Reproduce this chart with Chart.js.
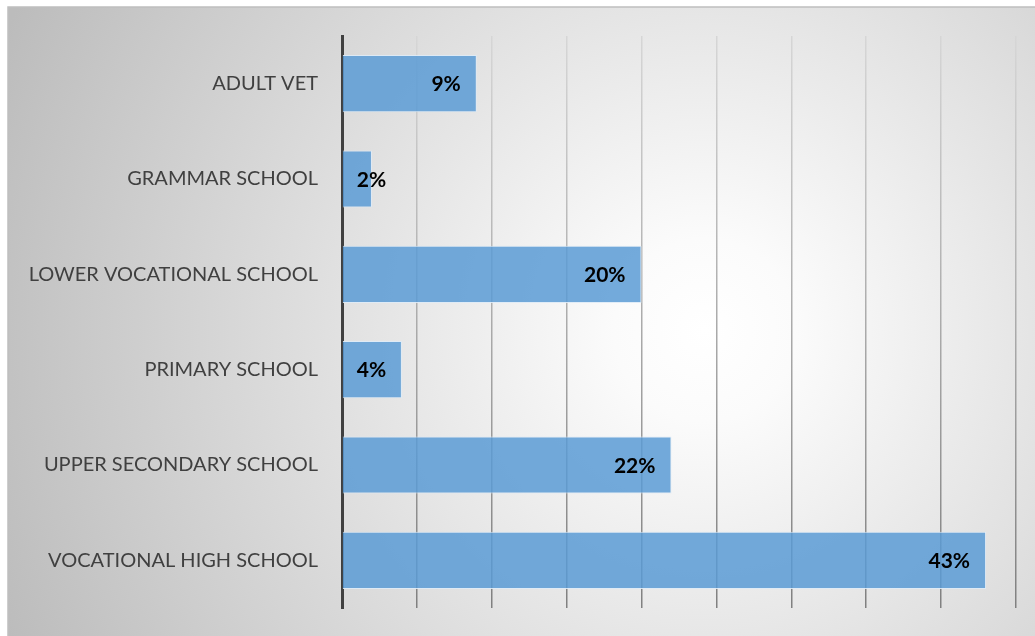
<!DOCTYPE html>
<html>
<head>
<meta charset="utf-8">
<script src="https://cdn.jsdelivr.net/npm/chart.js@4/dist/chart.umd.min.js"></script>
<style>
  html, body { margin: 0; padding: 0; background: #fff; }
  #wrap { width: 1035px; height: 636px; position: relative; }
</style>
</head>
<body>
<div id="wrap"><canvas id="schoolChart"></canvas></div>
<script>
// =========================
// School type share chart
// =========================

const schoolTypes = [
    'ADULT VET',
    'GRAMMAR SCHOOL',
    'LOWER VOCATIONAL SCHOOL',
    'PRIMARY SCHOOL',
    'UPPER SECONDARY SCHOOL',
    'VOCATIONAL HIGH SCHOOL'
];
const sharePercent = [9, 2, 20, 4, 22, 43];
const axisMax = 45;
const axisStep = 5;

// soft radial backdrop with a thin frame on top and left
const backdrop = {
    id: 'backdrop',
    beforeDraw(chart) {
        const c = chart.ctx;
        const x0 = 8, y0 = 7;
        const w = chart.width - x0, h = chart.height - y0;
        const g = c.createRadialGradient(705, 330, 0, 705, 330, 760);
        g.addColorStop(0, '#ffffff');
        g.addColorStop(0.12, '#fbfbfb');
        g.addColorStop(1, '#bcbcbc');
        c.save();
        c.fillStyle = g;
        c.fillRect(x0, y0, w, h);
        c.strokeStyle = '#bfbfbf';
        c.lineWidth = 1.5;
        c.beginPath();
        c.moveTo(x0, chart.height);
        c.lineTo(x0, y0);
        c.lineTo(chart.width, y0);
        c.stroke();
        c.restore();
    }
};

// percentage labels at the inner end of each bar
const barLabels = {
    id: 'barLabels',
    afterDatasetsDraw(chart) {
        const c = chart.ctx;
        const meta = chart.getDatasetMeta(0);
        c.save();
        c.font = 'bold 21px Lato';
        c.fillStyle = '#000';
        c.textBaseline = 'middle';
        meta.data.forEach((bar, i) => {
            const text = sharePercent[i] + '%';
            const tw = c.measureText(text).width;
            let x = bar.x - 16 - tw;
            x = Math.max(x, bar.base + 14);
            c.fillText(text, x, bar.y + 1);
        });
        c.restore();
    }
};

function gridShade(context) {
    const area = context.chart.chartArea;
    if (!area) return '#aaaaaa';
    const g = context.chart.ctx.createLinearGradient(0, area.top, 0, area.bottom);
    g.addColorStop(0, '#d6d6d6');
    g.addColorStop(1, '#808080');
    return g;
}

const schoolCtx = document.getElementById('schoolChart');

new Chart(schoolCtx, {
    type: 'bar',
    data: {
        labels: schoolTypes,
        datasets: [{
            data: sharePercent,
            backgroundColor: 'rgba(91, 155, 213, 0.85)',
            borderColor: 'rgba(222, 235, 247, 0.9)',
            borderWidth: 1,
            borderSkipped: 'left',
            categoryPercentage: 1,
            barPercentage: 0.6
        }]
    },
    options: {
        indexAxis: 'y',
        responsive: true,
        maintainAspectRatio: false,
        animation: false,
        layout: {
            padding: { left: 0, top: 36, right: 19, bottom: 19 }
        },
        plugins: {
            legend: { display: false },
            tooltip: { enabled: false }
        },
        scales: {
            x: {
                min: 0,
                max: axisMax,
                ticks: { display: false, stepSize: axisStep },
                border: { display: false },
                grid: {
                    color: gridShade,
                    lineWidth: 1.5,
                    drawTicks: false
                },
                afterFit(scale) { scale.height = 0; }
            },
            y: {
                grid: { display: false },
                border: { color: '#404040', width: 3 },
                ticks: {
                    color: '#404040',
                    padding: 16,
                    font: { family: 'Lato', size: 20 }
                },
                afterFit(scale) { scale.width = 342; }
            }
        }
    },
    plugins: [backdrop, barLabels]
});
</script>
</body>
</html>
